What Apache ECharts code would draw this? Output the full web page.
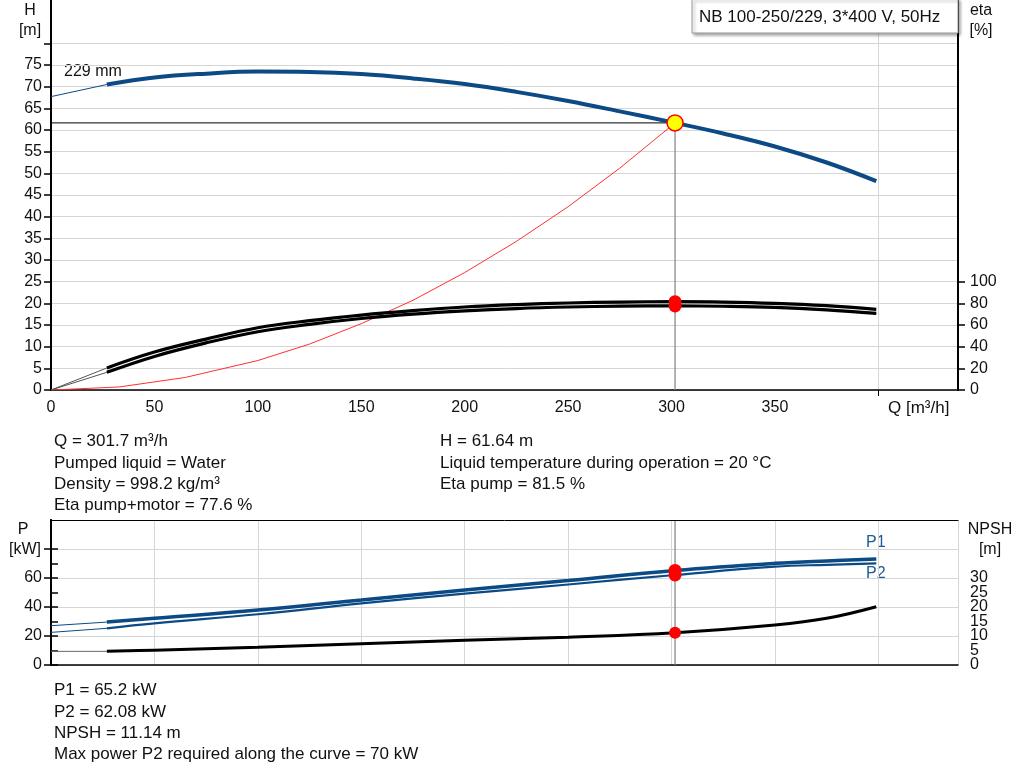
<!DOCTYPE html>
<html>
<head>
<meta charset="utf-8">
<script src="https://cdn.jsdelivr.net/npm/echarts@6/dist/echarts.min.js"></script>
<style>
  html, body { margin: 0; padding: 0; background: #fff; }
  #chart-container { width: 1024px; height: 781px; }
</style>
</head>
<body>
<div id="chart-container"></div>
<script>
// ---- data ----
const opQ = 301.7
const opH = 61.64
const opEtaPump = 81.5
const opEtaTotal = 77.6
const opP1 = 65.2
const opP2 = 62.08
const opNpsh = 11.14

// head curve (229 mm impeller)
const headExtQ = [0, 27]
const headExtH = [67.7, 70.5]
const headQ = [27, 50, 75, 100, 125, 150, 175, 200, 225, 250, 275, 301.7, 325, 350, 375, 399]
const headH = [70.5, 72.1, 73.0, 73.5, 73.4, 72.9, 71.9, 70.6, 68.8, 66.7, 64.3, 61.64, 59.2, 56.2, 52.5, 48.2]

// efficiency curves
const etaQ = [27, 50, 75, 100, 125, 150, 175, 200, 225, 250, 275, 301.7, 325, 350, 375, 399]
const etaPump = [20.3, 35, 47, 57.5, 64, 69.2, 73.3, 76.6, 78.8, 80.3, 81.2, 81.5, 81.2, 80, 77.8, 74.5]
const etaTotal = [16.3, 31, 43.5, 53.8, 60.6, 66, 70, 73, 75.2, 76.6, 77.4, 77.6, 77.3, 76.3, 74, 70.8]
const etaExtQ = [0, 27]
const etaPumpExt = [0, 20.3]
const etaTotalExt = [0, 16.3]

// system curve
const sysQ = [0, 33, 65, 100, 125, 150, 175, 200, 225, 250, 275, 301.7]
const sysH = [0, 0.7, 2.9, 6.8, 10.6, 15.3, 20.7, 27.1, 34.3, 42.3, 51.2, 61.64]

// power curves
const powerQ = [27, 50, 100, 150, 200, 250, 301.7, 350, 375, 399]
const powerP1 = [29.6, 32.2, 37.9, 44.8, 51.8, 58.2, 65.2, 70.1, 71.8, 73.1]
const powerP2 = [25.3, 28.7, 35, 42.5, 49.2, 55.5, 62.08, 67.8, 69.1, 70.1]
const powerExtQ = [0, 27]
const powerP1Ext = [27.1, 29.6]
const powerP2Ext = [22.5, 25.3]

// NPSH curve
const npshQ = [27, 50, 100, 150, 200, 250, 301.7, 350, 375, 399]
const npshM = [4.7, 5.1, 6.1, 7.3, 8.5, 9.6, 11.14, 13.8, 16.1, 20.1]
const npshExtQ = [0, 27]
const npshExtM = [4.7, 4.7]

// tick labels
const qLabels = [0, 50, 100, 150, 200, 250, 300, 350]
const qTicks = [400]
const hLabels = [0, 5, 10, 15, 20, 25, 30, 35, 40, 45, 50, 55, 60, 65, 70, 75]
const hTicks = [0, 5, 10, 15, 20, 25, 30, 35, 40, 45, 50, 55, 60, 65, 70, 75, 80]
const etaLabels = [0, 20, 40, 60, 80, 100]
const pLabels = [0, 20, 40, 60]
const pTicks = [0, 20, 40, 60, 80]
const npshLabelsEven = [0, 10, 20, 30]
const npshLabelsOdd = [5, 15, 25]
const npshTicks = [0, 5, 10, 15, 20, 25, 30, 35, 40]

const infoLeft = ["Q = 301.7 m³/h", "Pumped liquid = Water", "Density = 998.2 kg/m³", "Eta pump+motor = 77.6 %"]
const infoRight = ["H = 61.64 m", "Liquid temperature during operation = 20 °C", "Eta pump = 81.5 %"]
const infoBottom = ["P1 = 65.2 kW", "P2 = 62.08 kW", "NPSH = 11.14 m", "Max power P2 required along the curve = 70 kW"]

const titleText = "NB 100-250/229, 3*400 V, 50Hz"

// ---- chart ----
const FONT = "Liberation Sans, Arial, sans-serif"
const BLUE = "#0b4a84"
const GRID_GRAY = "#d6d6d6"

const zip = (xs, ys) => xs.map((x, i) => [x, ys[i]])

var dom = document.getElementById("chart-container")
var myChart = echarts.init(dom, null, { renderer: "canvas" })

const commonX = {
  type: "value",
  min: 0,
  max: 438.5,
  interval: 50,
  axisLine: { show: true, onZero: false, lineStyle: { color: "#000", width: 1.5 } },
  splitLine: { show: true, lineStyle: { color: GRID_GRAY, width: 1 } },
  axisTick: { show: false },
  axisLabel: { show: false }
}

const axisText = {
  color: "#111",
  fontSize: 16,
  fontFamily: FONT,
  showMinLabel: true,
  showMaxLabel: true,
  hideOverlap: false
}

// NPSH axis is split in two so that the tightly packed labels all show
const npshAxis = (labels, showLine) => ({
  type: "value",
  gridIndex: 1,
  min: 0,
  max: 50,
  interval: 5,
  position: "right",
  axisLine: { show: showLine, lineStyle: { color: "#000", width: 2 } },
  axisTick: { show: showLine, customValues: npshTicks, length: 7, lineStyle: { color: "#000", width: 1.5 } },
  axisLabel: { customValues: labels, margin: 12, ...axisText },
  splitLine: { show: false }
})

const lineSerie = (name, data, xi, yi, color, width, extra) => ({
  name,
  type: "line",
  xAxisIndex: xi,
  yAxisIndex: yi,
  data,
  showSymbol: false,
  symbol: "none",
  silent: true,
  lineStyle: { color, width },
  ...extra
})

const dotSerie = (name, data, xi, yi, size, style, z) => ({
  name,
  type: "scatter",
  xAxisIndex: xi,
  yAxisIndex: yi,
  data,
  symbolSize: size,
  itemStyle: { opacity: 1, ...style },
  silent: true,
  z: z || 10
})

const textLines = (lines, x, y0, step) =>
  lines.map((t, i) => ({
    type: "text",
    left: x,
    top: y0 + i * step,
    style: { text: t, fontSize: 17, fontFamily: FONT, fill: "#111" }
  }))

const label = (text, x, y, align, size, fill) => ({
  type: "text",
  x,
  y,
  style: {
    text,
    fontSize: size || 16,
    fontFamily: FONT,
    fill: fill || "#111",
    align: align || "center",
    verticalAlign: "middle"
  }
})

var option = {
  animation: false,
  grid: [
    { left: 51, right: 66, top: 0, height: 390 },
    { left: 51, right: 66, top: 520, height: 145 }
  ],
  xAxis: [
    {
      ...commonX,
      gridIndex: 0,
      axisTick: { show: true, customValues: qTicks, length: 6, lineStyle: { color: "#000" } },
      axisLabel: { show: true, customValues: qLabels, margin: 10, ...axisText }
    },
    { ...commonX, gridIndex: 1 },
    {
      ...commonX,
      gridIndex: 1,
      position: "top",
      z: 5,
      splitLine: { show: false },
      axisLine: { show: true, onZero: false, lineStyle: { color: "#000", width: 1 } }
    }
  ],
  yAxis: [
    {
      type: "value",
      gridIndex: 0,
      min: 0,
      max: 90,
      interval: 5,
      position: "left",
      axisLine: { show: true, lineStyle: { color: "#000", width: 2 } },
      axisTick: { show: true, customValues: hTicks, length: 7, lineStyle: { color: "#000", width: 1.5 } },
      axisLabel: { customValues: hLabels, margin: 9, ...axisText },
      splitLine: { show: true, lineStyle: { color: GRID_GRAY, width: 1 } }
    },
    {
      type: "value",
      gridIndex: 0,
      min: 0,
      max: 360,
      interval: 20,
      position: "right",
      axisLine: { show: true, lineStyle: { color: "#000", width: 2 } },
      axisTick: { show: true, customValues: etaLabels, length: 7, lineStyle: { color: "#000", width: 1.5 } },
      axisLabel: { customValues: etaLabels, margin: 12, ...axisText },
      splitLine: { show: false }
    },
    {
      type: "value",
      gridIndex: 1,
      min: 0,
      max: 100,
      interval: 20,
      position: "left",
      axisLine: { show: true, lineStyle: { color: "#000", width: 2 } },
      axisTick: { show: true, customValues: pTicks, length: 7, lineStyle: { color: "#000", width: 1.5 } },
      axisLabel: { customValues: pLabels, margin: 9, ...axisText },
      splitLine: { show: true, lineStyle: { color: GRID_GRAY, width: 1 } }
    },
    npshAxis(npshLabelsEven, true),
    npshAxis(npshLabelsOdd, false)
  ],
  series: [
    // top chart
    lineSerie("sys", zip(sysQ, sysH), 0, 0, "#ff3030", 1, { z: 3 }),
    lineSerie("opH", [[0, opH], [opQ, opH]], 0, 0, "#000", 1, { z: 2 }),
    lineSerie("opV", [[opQ, opH], [opQ, 0]], 0, 0, "#808080", 1.2, { z: 2 }),
    lineSerie("Hext", zip(headExtQ, headExtH), 0, 0, BLUE, 1, { z: 4 }),
    lineSerie("H", zip(headQ, headH), 0, 0, BLUE, 4, { smooth: 0.4, z: 4 }),
    lineSerie("etaPumpExt", zip(etaExtQ, etaPumpExt), 0, 1, "#555", 1, { z: 4 }),
    lineSerie("etaTotalExt", zip(etaExtQ, etaTotalExt), 0, 1, "#555", 1, { z: 4 }),
    lineSerie("etaPump", zip(etaQ, etaPump), 0, 1, "#000", 3.2, { smooth: 0.4, z: 4 }),
    lineSerie("etaTotal", zip(etaQ, etaTotal), 0, 1, "#000", 3.2, { smooth: 0.4, z: 4 }),
    dotSerie("opEta", [[opQ, opEtaPump], [opQ, opEtaTotal]], 0, 1, 13, { color: "#ff0000" }),
    dotSerie("op", [[opQ, opH]], 0, 0, 16, { color: "#ffff00", borderColor: "#ff0000", borderWidth: 1.5 }, 20),
    // bottom chart
    lineSerie("opV2", [[opQ, 0], [opQ, 100]], 1, 2, "#808080", 1.2, { z: 2 }),
    lineSerie("P1ext", zip(powerExtQ, powerP1Ext), 1, 2, BLUE, 1, { z: 4 }),
    lineSerie("P2ext", zip(powerExtQ, powerP2Ext), 1, 2, BLUE, 1, { z: 4 }),
    lineSerie("P1", zip(powerQ, powerP1), 1, 2, BLUE, 3.5, { smooth: 0.4, z: 4 }),
    lineSerie("P2", zip(powerQ, powerP2), 1, 2, BLUE, 2.2, { smooth: 0.4, z: 4 }),
    lineSerie("npshExt", zip(npshExtQ, npshExtM), 1, 3, "#666", 1, { z: 4 }),
    lineSerie("NPSH", zip(npshQ, npshM), 1, 3, "#000", 3, { smooth: 0.4, z: 4 }),
    dotSerie("opP", [[opQ, opP1], [opQ, opP2]], 1, 2, 13, { color: "#ff0000" }),
    dotSerie("opN", [[opQ, opNpsh]], 1, 3, 12, { color: "#ff0000" })
  ],
  graphic: [
    {
      type: "rect",
      shape: { x: 692, y: -1, width: 266, height: 34 },
      style: {
        fill: "#fff",
        stroke: "#9a9a9a",
        lineWidth: 1,
        shadowBlur: 3,
        shadowOffsetX: 2,
        shadowOffsetY: 2,
        shadowColor: "rgba(0,0,0,0.35)"
      },
      z: 20
    },
    { ...label(titleText, 699, 17, "left", 17), z: 21 },
    label("H", 30, 11),
    label("[m]", 30, 31),
    label("eta", 981, 11),
    label("[%]", 981, 31),
    label("Q [m³/h]", 888, 408, "left", 17),
    label("229 mm", 64, 72, "left", 16),
    label("P", 23, 530),
    label("[kW]", 25, 550),
    label("NPSH", 990, 530),
    label("[m]", 990, 550),
    label("P1", 866, 543, "left", 16, "#1d5a96"),
    label("P2", 866, 574, "left", 16, "#1d5a96"),
    ...textLines(infoLeft, 54, 433, 21.4),
    ...textLines(infoRight, 440, 433, 21.4),
    ...textLines(infoBottom, 54, 682, 21.4)
  ]
}

if (option && typeof option === "object") {
  myChart.setOption(option)
}

window.addEventListener("resize", myChart.resize)
</script>
</body>
</html>
